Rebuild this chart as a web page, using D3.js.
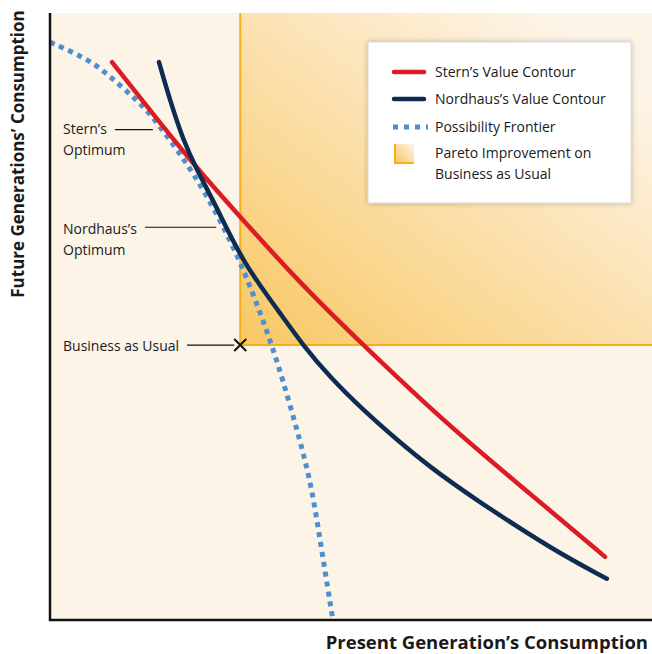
<!DOCTYPE html>
<html>
<head>
<meta charset="utf-8">
<script src="https://cdn.jsdelivr.net/npm/d3@7"></script>
<style>
  body { margin: 0; background: #fff; }
  svg { display: block; }
  text { font-family: "Open Sans", sans-serif; fill: #1a1a1a; }
</style>
</head>
<body>
<svg id="chart" width="652" height="654"></svg>
<script>
// curves, in chart units (0..100 on both axes)
var sternCurve = [[10.3, 91.9], [16.6, 84.0], [23.8, 75.1], [31.6, 66.4], [41.5, 55.5],
  [52.0, 45.3], [63.1, 34.9], [71.4, 27.7], [83.6, 17.6], [92.2, 10.4]];
var nordhausCurve = [[18.1, 91.9], [19.9, 85.7], [22.1, 79.1], [24.4, 74.1], [27.7, 68.0],
  [32.1, 58.8], [38.2, 50.6], [42.0, 45.3], [46.5, 40.0], [52.0, 34.6], [57.6, 29.7],
  [63.1, 25.2], [70.3, 20.1], [83.6, 11.5], [92.5, 6.8]];
var frontierCurve = [[0, 95.2], [6.6, 92.3], [10.0, 89.5], [13.8, 86.2], [16.6, 83.5],
  [20.8, 77.9], [23.8, 73.6], [27.4, 67.5], [31.6, 59.3], [36.2, 47.3], [38.7, 39.5],
  [41.5, 29.7], [43.5, 21.9], [45.3, 10.4], [47.0, 0]];
var businessAsUsual = [31.6, 45.3];
var sternOptimum = [17.1, 80.8];
var nordhausOptimum = [27.6, 64.7];

var legendLabels = [["Stern\u2019s Value Contour"], ["Nordhaus\u2019s Value Contour"],
  ["Possibility Frontier"], ["Pareto Improvement on", "Business as Usual"]];

var red = "#dc1c24", navy = "#0e2c52", blue = "#4f8fd0", orange = "#f6ae1c", peach = "#fdf4e8";

var svg = d3.select("#chart");
var x = d3.scaleLinear().domain([0, 100]).range([50, 652]);
var y = d3.scaleLinear().domain([0, 100]).range([620, 13]);

var defs = svg.append("defs");
var grad = defs.append("linearGradient").attr("id", "pareto")
  .attr("x1", 0).attr("y1", 1).attr("x2", 0.85).attr("y2", 0.1);
grad.append("stop").attr("offset", 0).attr("stop-color", "#f8c764");
grad.append("stop").attr("offset", 0.45).attr("stop-color", "#fbdca0");
grad.append("stop").attr("offset", 1).attr("stop-color", peach);

var sw = defs.append("linearGradient").attr("id", "swatch")
  .attr("x1", 0).attr("y1", 1).attr("x2", 1).attr("y2", 0);
sw.append("stop").attr("offset", 0).attr("stop-color", "#f8c35a");
sw.append("stop").attr("offset", 1).attr("stop-color", "#fff6e8");

var shadow = defs.append("filter").attr("id", "shadow")
  .attr("x", -0.1).attr("y", -0.1).attr("width", 1.2).attr("height", 1.2);
shadow.append("feDropShadow").attr("dx", 0).attr("dy", 0)
  .attr("stdDeviation", 2.5).attr("flood-color", "#000").attr("flood-opacity", 0.25);

var clip = defs.append("clipPath").attr("id", "plot");
clip.append("rect").attr("x", x(0)).attr("y", y(100))
  .attr("width", x(100) - x(0)).attr("height", y(0) - y(100));

// background
svg.append("rect").attr("x", x(0)).attr("y", y(100))
  .attr("width", x(100) - x(0)).attr("height", y(0) - y(100)).attr("fill", peach);

// pareto region
svg.append("rect")
  .attr("x", x(businessAsUsual[0])).attr("y", y(100))
  .attr("width", x(100) - x(businessAsUsual[0]))
  .attr("height", y(businessAsUsual[1]) - y(100))
  .attr("fill", "url(#pareto)");
svg.append("path")
  .attr("d", "M" + x(businessAsUsual[0]) + "," + y(100) + "V" + y(businessAsUsual[1]) + "H" + x(100))
  .attr("fill", "none").attr("stroke", orange).attr("stroke-width", 2);

var line = d3.line()
  .x(function(d) { return x(d[0]); })
  .y(function(d) { return y(d[1]); })
  .curve(d3.curveBasis);

var curves = svg.append("g").attr("clip-path", "url(#plot)");
curves.append("path").datum(frontierCurve).attr("d", line)
  .attr("fill", "none").attr("stroke", blue).attr("stroke-width", 5)
  .attr("stroke-dasharray", "5,5");
curves.append("path").datum(sternCurve).attr("d", line)
  .attr("fill", "none").attr("stroke", red).attr("stroke-width", 4.5)
  .attr("stroke-linecap", "round");
curves.append("path").datum(nordhausCurve).attr("d", line)
  .attr("fill", "none").attr("stroke", navy).attr("stroke-width", 4.5)
  .attr("stroke-linecap", "round");

// axes
svg.append("path")
  .attr("d", "M" + x(0) + "," + y(100) + "V" + y(0) + "H" + x(100))
  .attr("fill", "none").attr("stroke", "#111").attr("stroke-width", 2.5);

svg.append("text")
  .attr("transform", "translate(24," + 154 + ") rotate(-90)")
  .attr("text-anchor", "middle")
  .style("font-weight", "bold").style("font-size", "17px")
  .text("Future Generations\u2019 Consumption");
svg.append("text")
  .attr("x", 648).attr("y", 649)
  .attr("text-anchor", "end")
  .style("font-weight", "bold").style("font-size", "18.5px")
  .text("Present Generation\u2019s Consumption");

// annotations
var ann = svg.append("g").style("font-size", "14px");
ann.append("text").attr("x", 63).attr("y", 134).text("Stern\u2019s");
ann.append("text").attr("x", 63).attr("y", 155).text("Optimum");
ann.append("line").attr("x1", 115).attr("x2", x(sternOptimum[0]))
  .attr("y1", y(sternOptimum[1])).attr("y2", y(sternOptimum[1]))
  .attr("stroke", "#111").attr("stroke-width", 1.2);

ann.append("text").attr("x", 63).attr("y", 234).text("Nordhaus\u2019s");
ann.append("text").attr("x", 63).attr("y", 255).text("Optimum");
ann.append("line").attr("x1", 145).attr("x2", x(nordhausOptimum[0]))
  .attr("y1", y(nordhausOptimum[1])).attr("y2", y(nordhausOptimum[1]))
  .attr("stroke", "#111").attr("stroke-width", 1.2);

ann.append("text").attr("x", 63).attr("y", 351).text("Business as Usual");
ann.append("line").attr("x1", 187).attr("x2", x(businessAsUsual[0]) - 6)
  .attr("y1", y(businessAsUsual[1])).attr("y2", y(businessAsUsual[1]))
  .attr("stroke", "#111").attr("stroke-width", 1.2);
var bx = x(businessAsUsual[0]), by = y(businessAsUsual[1]);
ann.append("path")
  .attr("d", "M" + (bx - 6) + "," + (by - 6) + "L" + (bx + 6) + "," + (by + 6) +
    "M" + (bx - 6) + "," + (by + 6) + "L" + (bx + 6) + "," + (by - 6))
  .attr("stroke", "#111").attr("stroke-width", 2);

// legend
var lg = svg.append("g").attr("transform", "translate(368,42)");
lg.append("rect").attr("width", 263).attr("height", 161)
  .attr("fill", "#fff").attr("stroke", "#d8d8d8").attr("filter", "url(#shadow)");
var rows = [30, 57, 85, 111];
var items = lg.selectAll("g.item").data(legendLabels).join("g")
  .attr("class", "item")
  .attr("transform", function(d, i) { return "translate(0," + rows[i] + ")"; });
items.each(function(d, i) {
  var g = d3.select(this);
  if (i === 0 || i === 1) {
    g.append("line").attr("x1", 26).attr("x2", 56)
      .attr("stroke", i === 0 ? red : navy).attr("stroke-width", 4.5)
      .attr("stroke-linecap", "round");
  } else if (i === 2) {
    g.append("line").attr("x1", 25).attr("x2", 60)
      .attr("stroke", blue).attr("stroke-width", 5).attr("stroke-dasharray", "5,6");
  } else {
    g.append("rect").attr("x", 26).attr("y", -9).attr("width", 20).attr("height", 20)
      .attr("fill", "url(#swatch)");
    g.append("path").attr("d", "M27,-9V10H46")
      .attr("fill", "none").attr("stroke", orange).attr("stroke-width", 2);
  }
  d.forEach(function(t, j) {
    g.append("text").attr("x", 67).attr("y", 5 + j * 21)
      .style("font-size", "14px").text(t);
  });
});
</script>
</body>
</html>
